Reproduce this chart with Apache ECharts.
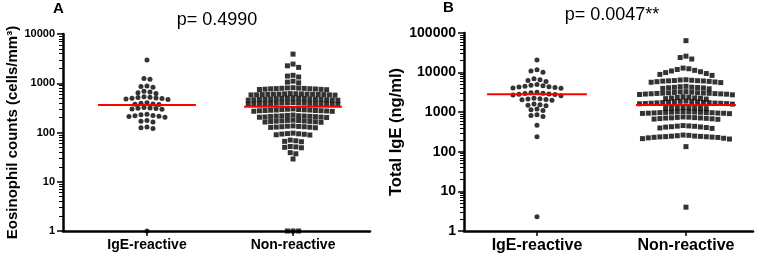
<!DOCTYPE html>
<html>
<head>
<meta charset="utf-8">
<script src="https://cdn.jsdelivr.net/npm/echarts@6/dist/echarts.min.js"></script>
<style>
  html, body { margin: 0; padding: 0; background: #fff; }
  #main { width: 765px; height: 259px; }
</style>
</head>
<body>
<div id="main"></div>
<script>
var groups = ['IgE-reactive', 'Non-reactive'];

// panel A: eosinophil counts (cells/mm3)
var eosIgE = [2950, 1250, 1200, 880, 860, 830, 690, 665, 640, 620,
  530, 522, 512, 503, 497, 488, 480, 470, 400, 392, 381, 376, 370,
  321, 314, 309, 306, 300, 295, 236, 229, 221, 218, 214, 211, 205,
  176, 170, 164, 129, 125, 121, 1];
var eosNon = [3900, 2450, 2260, 2100, 1450, 1400, 1340, 1100, 1055, 1020,
  812, 803, 796, 790, 786, 779, 774, 771, 764, 758, 751, 746, 740,
  616, 612, 609, 607, 604, 601, 600, 597, 594, 592, 589, 588, 584, 581, 579, 574,
  500, 498, 494, 490, 489, 485, 481, 479, 477, 472, 470, 468, 463, 461, 458, 454, 452,
  406, 402, 399, 397, 396, 392, 389, 388, 386, 383, 382, 380, 379, 376, 373, 372, 370,
  301, 297, 293, 292, 289, 286, 285, 283, 280, 279, 277, 276, 273, 270, 269,
  226, 222, 219, 218, 216, 215, 213, 212, 210, 207, 206, 204, 202,
  178, 176, 175, 172, 171, 170, 168, 167, 165, 163, 161,
  136, 134, 133, 131, 131, 129, 128, 127, 125,
  97, 95, 94, 93, 92, 90, 89,
  70, 68, 66, 65,
  52, 51, 50, 49,
  39, 37, 29,
  1, 1, 1];

// panel B: total IgE (ng/ml)
var igeIgE = [20800, 11800, 11000, 10200, 7000, 6600, 6300, 6000,
  5000, 4800, 4650, 4500, 4400, 4300, 4200, 4100, 4000,
  3200, 3100, 3000, 2950, 2900, 2850, 2800, 2700, 2600,
  2250, 2200, 2150, 2100, 2050, 2000,
  1600, 1550, 1500, 1450, 1200, 1150, 1100, 860, 820, 780,
  470, 240, 2.3];
var igeNon = [64000, 26000, 24000, 22000,
  13000, 12500, 12000, 11400, 11000, 10500, 10000, 9500, 9000, 8500,
  6600, 6500, 6400, 6300, 6250, 6200, 6150, 6100, 6000, 5900, 5800, 5700, 5600,
  4500, 4400, 4300, 4250, 4200, 4150, 4100, 4000, 3900,
  3300, 3250, 3200, 3150, 3100, 3080, 3050, 3020, 3000, 2980, 2950, 2920, 2900, 2870, 2850, 2800, 2750,
  2450, 2400, 2350, 2300, 2280, 2250, 2200, 2150,
  1900, 1880, 1850, 1820, 1800, 1780, 1760, 1750, 1740, 1720, 1700, 1690, 1680, 1660, 1650, 1630, 1600,
  1320, 1300, 1290, 1280, 1260, 1250, 1240, 1230,
  1040, 1030, 1020, 1010, 1000, 995, 990, 980, 975, 970, 960, 950, 945, 940, 930, 920,
  760, 750, 740, 730, 720, 715, 710, 700, 690, 680, 670, 660,
  460, 450, 445, 440, 430, 425, 420, 410, 400, 390,
  265, 260, 255, 250, 248, 245, 242, 240, 238, 235, 232, 230, 225, 220, 215, 210,
  135, 4];

var eosMedian = [360, 335];
var igeMedian = [2850, 1520];

var eosMax = 10000;
var igeMax = 100000;

var font = 'Arial, "Liberation Sans", sans-serif';
var halfWidth = 0.335;

var rectA = { left: 63, top: 34, width: 307, height: 197 };
var rectB = { left: 464, top: 33, width: 289, height: 198 };

function minorTicks(max) {
  var list = [];
  for (var d = 0; Math.pow(10, d) < max; d++) {
    for (var k = 2; k <= 9; k++) list.push(d + Math.log10(k));
  }
  return list;
}

function xAxisOf(gi, min, max, fs) {
  return {
    gridIndex: gi, type: 'value', min: min, max: max, z: 5,
    axisLine: { onZero: false, lineStyle: { color: '#000', width: 2.5 } },
    axisTick: { customValues: [0, 1], length: 5, lineStyle: { color: '#000', width: 1.5 } },
    axisLabel: {
      customValues: [0, 1], margin: 7, color: '#000', fontWeight: 'bold', fontSize: fs, fontFamily: font,
      formatter: function (v) { return groups[Math.round(v)]; }
    },
    splitLine: { show: false }
  };
}

function yAxisOf(gi, max, name, fs, nfs, gap) {
  return {
    gridIndex: gi, type: 'log', logBase: 10, min: 1, max: max, z: 5, position: 'left',
    name: name, nameLocation: 'middle', nameGap: gap, nameRotate: 90,
    nameTextStyle: { color: '#000', fontWeight: 'bold', fontSize: nfs, fontFamily: font },
    axisLine: { onZero: false, lineStyle: { color: '#000', width: 2.5 } },
    axisTick: { length: 6, lineStyle: { color: '#000', width: 1.5 } },
    axisLabel: {
      margin: 8, color: '#000', fontWeight: 'bold', fontSize: fs, fontFamily: font,
      formatter: function (v) { return String(Math.round(v)); }
    },
    splitLine: { show: false }
  };
}

// log minor ticks: a right-side axis pulled back onto the left edge, ticks pointing outward-left
function minorAxisOf(gi, max, width) {
  return {
    gridIndex: gi, type: 'value', min: 0, max: Math.log10(max), z: 6,
    position: 'right', offset: -width,
    axisLine: { show: false, onZero: false },
    axisTick: { show: true, inside: true, customValues: minorTicks(max), length: 4, lineStyle: { color: '#000', width: 1 } },
    axisLabel: { show: false },
    splitLine: { show: false }
  };
}

function medianLine(xi, yi, center, v) {
  return {
    type: 'line', xAxisIndex: xi, yAxisIndex: yi, z: 4, symbol: 'none', silent: true,
    lineStyle: { color: '#ff0000', width: 2 },
    data: [[center - halfWidth, v], [center + halfWidth, v]]
  };
}

var chart = echarts.init(document.getElementById('main'), null, { renderer: 'canvas' });

var option = {
  animation: false,
  backgroundColor: '#fff',
  grid: [rectA, rectB],
  xAxis: [xAxisOf(0, -0.575, 1.527, 14), xAxisOf(1, -0.49, 1.45, 16)],
  yAxis: [
    yAxisOf(0, eosMax, 'Eosinophil counts (cells/mm³)', 11, 15, 43),
    yAxisOf(1, igeMax, 'Total IgE (ng/ml)', 14, 16.5, 58),
    minorAxisOf(0, eosMax, rectA.width),
    minorAxisOf(1, igeMax, rectB.width)
  ],
  graphic: [
    { type: 'text', x: 53, y: 1, style: { text: 'A', font: 'bold 15px ' + font, fill: '#000' } },
    { type: 'text', x: 443, y: 0, style: { text: 'B', font: 'bold 15px ' + font, fill: '#000' } },
    { type: 'text', x: 217, y: 11, style: { text: 'p= 0.4990', font: '18px ' + font, fill: '#000', textAlign: 'center' } },
    { type: 'text', x: 612, y: 6, style: { text: 'p= 0.0047**', font: '18px ' + font, fill: '#000', textAlign: 'center' } }
  ],
  series: []
};
chart.setOption(option);

// lay the points out in rows like a column scatter plot
function swarm(values, center, xi, yi, step) {
  var f = { xAxisIndex: xi, yAxisIndex: yi };
  var unit = chart.convertToPixel(f, [1, 1])[0] - chart.convertToPixel(f, [0, 1])[0];
  var pts = values.map(function (v) {
    return { v: v, py: chart.convertToPixel(f, [center, v])[1] };
  });
  pts.sort(function (a, b) { return a.py - b.py; });
  var rows = [], cur = [];
  pts.forEach(function (p) {
    if (cur.length && p.py - cur[cur.length - 1].py > 1.8) { rows.push(cur); cur = []; }
    cur.push(p);
  });
  if (cur.length) rows.push(cur);
  var out = [];
  rows.forEach(function (row) {
    var n = row.length, slots = [];
    for (var i = 0; i < n; i++) slots.push((i - (n - 1) / 2) * step);
    slots.sort(function (a, b) { return Math.abs(a) - Math.abs(b) || a - b; });
    row.forEach(function (p, i) { out.push([center + slots[i] / unit, p.v]); });
  });
  return out;
}

function dots(data, xi, yi, shape) {
  return {
    type: 'scatter', xAxisIndex: xi, yAxisIndex: yi, symbol: shape, symbolSize: 5,
    itemStyle: { color: '#000' }, data: data
  };
}

chart.setOption({
  series: [
    dots(swarm(eosIgE, 0, 0, 0, 6), 0, 0, 'circle'),
    dots(swarm(eosNon, 1, 0, 0, 5.6), 0, 0, 'rect'),
    dots(swarm(igeIgE, 0, 1, 1, 6), 1, 1, 'circle'),
    dots(swarm(igeNon, 1, 1, 1, 5.8), 1, 1, 'rect'),
    medianLine(0, 0, 0, eosMedian[0]),
    medianLine(0, 0, 1, eosMedian[1]),
    medianLine(1, 1, 0, igeMedian[0]),
    medianLine(1, 1, 1, igeMedian[1])
  ]
});
</script>
</body>
</html>
